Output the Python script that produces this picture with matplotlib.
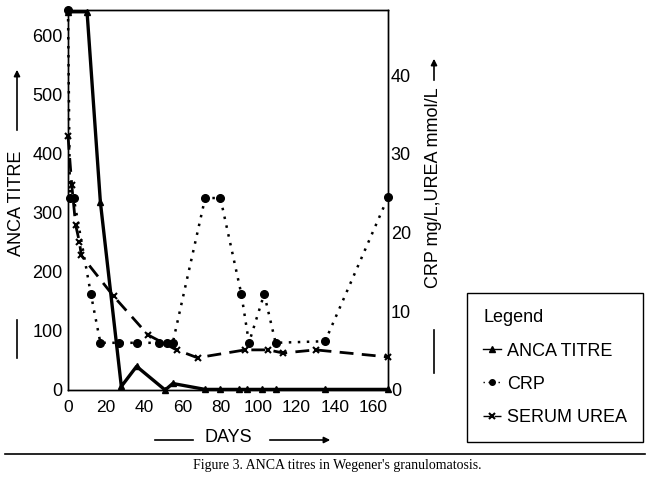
import matplotlib
matplotlib.use("Agg")
import matplotlib.pyplot as plt
from matplotlib.lines import Line2D
from matplotlib.patches import FancyArrowPatch

plt.rcParams['font.family'] = ['Liberation Sans', 'DejaVu Sans']

# ---- data ----
anca_days = [0, 10, 17, 28, 36, 51, 55, 72, 80, 90, 94, 102, 109, 135, 168]
anca_vals = [640, 640, 318, 6, 40, 0, 11, 1, 1, 1, 1, 1, 1, 1, 1]

crp_days = [0, 1, 3, 12, 17, 27, 36, 48, 52, 55, 72, 80, 91, 95, 103, 109, 135, 168]
crp_vals = [48.3, 24.4, 24.4, 12.2, 6.0, 6.0, 6.0, 6.0, 6.0, 6.0, 24.4, 24.4, 12.2, 6.0, 12.2, 6.0, 6.2, 24.5]

urea_days = [0, 2, 4, 6, 7, 24, 42, 57, 68, 93, 105, 113, 130, 168]
urea_vals = [32.3, 26.0, 21.0, 18.8, 17.1, 11.9, 7.0, 5.1, 4.1, 5.1, 5.1, 4.7, 5.1, 4.2]

x_ticks = [0, 20, 40, 60, 80, 100, 120, 140, 160]
left_ticks = [0, 100, 200, 300, 400, 500, 600]
right_ticks = [0, 10, 20, 30, 40]

W, H = 650, 479
fig = plt.figure(figsize=(W / 100, H / 100), dpi=100)


def fx(px):
    return px / W


def fy(py):
    return 1 - py / H


ax = fig.add_axes([fx(68), fy(390), fx(388) - fx(68), fy(10) - fy(390)])
ax2 = ax.twinx()

l1, = ax.plot(anca_days, anca_vals, color='black', lw=2.4, marker='^', ms=4,
              clip_on=False, zorder=3)
l2, = ax2.plot(crp_days, crp_vals, color='black', lw=1.8, ls=(0, (1, 2.6)),
               marker='o', ms=5.5, clip_on=False)
l3, = ax2.plot(urea_days, urea_vals, color='black', lw=2.0, ls=(0, (5, 3)),
               marker='x', ms=5, mew=1.5, clip_on=False)

ax.set_xlim(0, 168)
ax.set_ylim(0, 643)
ax2.set_ylim(0, 48.3)
ax.set_xticks(x_ticks)
ax.set_yticks(left_ticks)
ax2.set_yticks(right_ticks)
ax.tick_params(axis='y', length=0, pad=4, labelsize=13)
ax.tick_params(axis='x', length=0, pad=7, labelsize=12.5)
ax2.tick_params(axis='y', length=0, pad=2, labelsize=13)
for a in (ax, ax2):
    for s in a.spines.values():
        s.set_linewidth(1.0)

# left axis label with dash and arrow
fig.text(fx(17), fy(203), 'ANCA TITRE', rotation=90, ha='center', va='center', fontsize=13)
fig.add_artist(Line2D([fx(17), fx(17)], [fy(320), fy(358)], color='black', lw=1.2))
fig.add_artist(FancyArrowPatch((fx(17), fy(133)), (fx(17), fy(67)), transform=fig.transFigure,
                               arrowstyle='-|>', mutation_scale=9, lw=1.2, color='black'))

# right axis label
fig.text(fx(434), fy(188), 'CRP mg/L,UREA mmol/L', rotation=90, ha='center', va='center', fontsize=13)
fig.add_artist(Line2D([fx(434), fx(434)], [fy(330), fy(373)], color='black', lw=1.2))
fig.add_artist(FancyArrowPatch((fx(434), fy(83)), (fx(434), fy(56)), transform=fig.transFigure,
                               arrowstyle='-|>', mutation_scale=9, lw=1.2, color='black'))

# x axis label
fig.text(fx(228), fy(438), 'DAYS', ha='center', va='center', fontsize=13)
fig.add_artist(Line2D([fx(155), fx(193)], [fy(440), fy(440)], color='black', lw=1.2))
fig.add_artist(FancyArrowPatch((fx(267), fy(440)), (fx(333), fy(440)), transform=fig.transFigure,
                               arrowstyle='-|>', mutation_scale=9, lw=1.2, color='black'))

# caption
fig.add_artist(Line2D([fx(5), fx(645)], [fy(454), fy(454)], color='black', lw=1.2))
fig.text(fx(337), fy(466), "Figure 3. ANCA titres in Wegener's granulomatosis.", ha='center', va='center',
         fontsize=10, family=['Liberation Serif', 'DejaVu Serif'])

leg = fig.legend([l1, l2, l3], ['ANCA TITRE', 'CRP', 'SERUM UREA'], title='Legend',
                 loc='upper left', bbox_to_anchor=(fx(467), fy(293)), bbox_transform=fig.transFigure,
                 fontsize=13, title_fontsize=13, handlelength=1.0, handletextpad=0.3,
                 labelspacing=0.9, borderpad=0.9, borderaxespad=0, fancybox=False,
                 edgecolor='black', framealpha=1, numpoints=1, alignment='left')
leg.get_frame().set_linewidth(1.0)
for h in leg.legend_handles:
    h.set_linewidth(1.0)
    h.set_markersize(4)

fig.savefig('out.png', dpi=100)
